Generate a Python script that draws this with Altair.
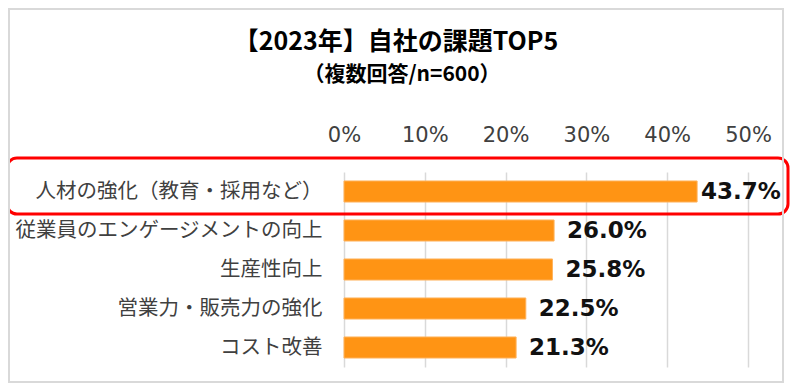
import altair as alt
import pandas as pd

title_text = "【2023年】自社の課題TOP5"
subtitle_text = "（複数回答/n=600）"
categories = [
    "人材の強化（教育・採用など）",
    "従業員のエンゲージメントの向上",
    "生産性向上",
    "営業力・販売力の強化",
    "コスト改善",
]
values = [0.437, 0.260, 0.258, 0.225, 0.213]
ranks = [1, 2, 3, 4, 5]
tick_values = [0.0, 0.1, 0.2, 0.3, 0.4, 0.5]

df = pd.DataFrame({"category": categories, "value": values, "rank": ranks})

JP = "Noto Sans CJK JP"
NUM = "DejaVu Sans"

y_enc = alt.Y(
    "category:N",
    sort=categories,
    scale=alt.Scale(paddingInner=0.46, paddingOuter=0.23),
    axis=alt.Axis(
        title=None, ticks=False, domain=False, labelPadding=22,
        labelFontSize=20.5, labelColor="#404040", labelFont=JP,
        labelLimit=400,
    ),
)
x_enc = alt.X(
    "value:Q",
    scale=alt.Scale(domain=[0, 0.5]),
    axis=alt.Axis(
        orient="top", format=".0%", values=tick_values, title=None,
        ticks=False, domain=False, grid=True, gridColor="#d9d9d9",
        gridWidth=1.5, labelFontSize=21, labelColor="#404040",
        labelFont=NUM, labelPadding=27, labelFlush=False,
    ),
)

base = alt.Chart(df)

bars = base.mark_bar(color="#FF9414", stroke="#FFB35C", strokeWidth=1).encode(
    x=x_enc, y=y_enc
)

lab_style = dict(align="left", baseline="middle", fontSize=23,
                 fontWeight="bold", font=NUM, color="#111111")

labels_first = base.transform_filter("datum.rank == 1").mark_text(
    dx=4, **lab_style
).encode(x="value:Q", y=alt.Y("category:N", sort=categories),
         text=alt.Text("value:Q", format=".1%"))

labels_rest = base.transform_filter("datum.rank > 1").mark_text(
    dx=13, **lab_style
).encode(x="value:Q", y=alt.Y("category:N", sort=categories),
         text=alt.Text("value:Q", format=".1%"))

one = base.transform_filter("datum.rank == 1")

highlight = one.mark_rect(
    fill=None, fillOpacity=0, stroke="#FF0000", strokeWidth=3, cornerRadius=10
).encode(
    x=alt.value(-337), x2=alt.value(444),
    y=alt.value(-14), y2=alt.value(42),
)

border = one.mark_rect(
    fill=None, fillOpacity=0, stroke="#d9d9d9", strokeWidth=2
).encode(
    x=alt.value(-335), x2=alt.value(439),
    y=alt.value(-163), y2=alt.value(210),
)

title_mark = one.mark_text(
    text=title_text, font=JP, fontSize=25, fontWeight="bold",
    color="#000000", align="center", baseline="middle",
).encode(x=alt.value(52), y=alt.value(-130))

subtitle_mark = one.mark_text(
    text=subtitle_text, font=JP, fontSize=21, fontWeight="bold",
    color="#000000", align="center", baseline="middle",
).encode(x=alt.value(58), y=alt.value(-97))

chart = alt.layer(
    bars, labels_first, labels_rest, highlight, border, title_mark, subtitle_mark
).properties(
    width=404,
    height=195,
    autosize=alt.AutoSizeParams(type="none"),
    padding={"left": 336, "top": 164, "right": 44, "bottom": 17},
).configure_view(stroke=None)

chart.save("out.html", embed_options={"renderer": "svg", "actions": False})
